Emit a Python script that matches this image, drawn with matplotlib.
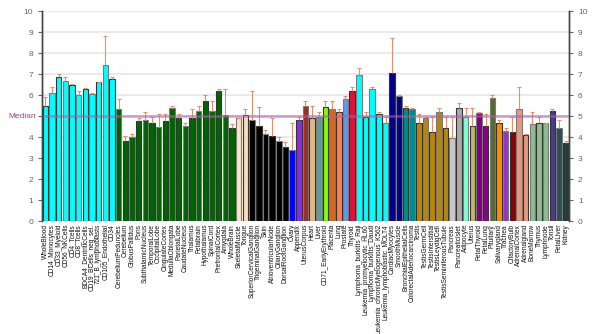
import matplotlib
matplotlib.use("Agg")
import matplotlib.pyplot as plt
import numpy as np

plt.rcParams['font.family'] = ['Liberation Sans', 'DejaVu Sans']

categories = [
    "WholeBlood", "CD14_Monocytes", "CD33_Myeloid", "CD56_NKCells", "CD4_Tcells",
    "CD8_Tcells", "BDCA4_DentriticCells", "CD19_BCells_neg_sel.", "721_B_lymphoblasts",
    "CD105_Endothelial", "CD34", "CerebellumPeduncles", "Cerebellum", "GlobusPallidus",
    "Pons", "SubthalamicNucleus", "TemporalLobe", "OccipitalLobe", "CingulateCortex",
    "MedullaOblongata", "ParietalLobe", "CaudateNucleus", "Thalamus", "Fetalbrain",
    "Hypothalamus", "SpinalCord", "PrefrontalCortex", "Amygdala", "WholeBrain",
    "SkeletalMuscle", "Tongue", "SuperiorCervicalGanglion", "TrigeminalGanglion", "Skin",
    "AtrioventricularNode", "CiliaryGanglion", "DorsalRootGanglion", "Ovary", "Appendix",
    "UterusCorpus", "Heart", "Liver", "CD71_EarlyErythroid", "Placenta", "Lung",
    "Prostate", "Thyroid", "Lymphoma_burkitts_Raji", "Leukemia_promyelocytic_HL60",
    "Lymphoma_burkitts_Daudi", "Leukemia_chronicMyelogenous_K562",
    "Leukemia_lymphoblastic_MOLT4", "CardiacMyocytes", "SmoothMuscle",
    "BronchialEpithelialCells", "ColorectalAdenocarcinoma", "Testis", "TestisGermCell",
    "TestisInterstitial", "TestisLeydigCell", "TestisSeminiferousTubule", "Pancreas",
    "PancreaticIslet", "Adipocyte", "Uterus", "FetalThyroid", "FetalLung", "Pituitary",
    "Salivarygland", "Trachea", "OlfactoryBulb", "AdrenalCortex", "Adrenalgland",
    "BoneMarrow", "Thymus", "Lymphnode", "Tonsil", "FetalLiver", "Kidney",
]

values = [
    5.48, 6.11, 6.84, 6.67, 6.48, 6.00, 6.27, 6.05, 6.62, 7.43, 6.75,
    5.33, 3.81, 3.98, 4.76, 4.81, 4.68, 4.49, 4.76, 5.40, 4.89, 4.52, 4.89, 5.25,
    5.70, 5.25, 6.19, 5.03, 4.41,
    4.89, 5.03, 4.81, 4.51, 4.17, 4.05, 3.81, 3.52, 3.38, 4.81, 5.48,
    4.89, 4.97, 5.44, 5.32, 5.19, 5.81, 6.19, 6.95, 4.97, 6.29, 5.10, 4.68,
    7.06, 5.95, 5.40, 5.32, 4.65, 4.89, 4.24, 5.21, 4.41, 3.97, 5.40,
    4.94, 4.52, 5.14, 4.52, 5.84, 4.65, 4.30, 4.24, 5.32, 4.08, 4.60, 4.65, 4.65,
    5.24, 4.44, 3.73,
]

error_tops = [
    5.92, 6.40, 7.00, 6.87, 6.52, 6.20, 6.32, 6.10, 6.64, 8.81, 6.87,
    5.81, 4.06, 4.17, 4.89, 5.21, 4.97, 5.10, 5.10, 5.49, 5.10, 4.68, 5.32, 5.49,
    6.00, 5.71, 6.29, 6.29, 4.60,
    4.91, 5.32, 6.21, 5.41, 4.33, 4.89, 3.98, 3.78, 4.68, 4.97, 5.71,
    5.49, 5.21, 5.71, 5.71, 5.32, 5.95, 6.40, 7.27, 5.21, 6.40, 5.21, 4.97,
    8.70, 6.00, 5.49, 5.40, 5.10, 4.97, 4.97, 5.40, 4.97, 4.97, 5.60,
    5.40, 5.40, 5.21, 5.10, 6.00, 4.81, 4.41, 4.97, 6.40, 4.17, 5.21, 4.97, 4.68,
    5.32, 4.81, 3.81,
]

median_value = 5.0
y_ticks = list(range(0, 11))
left_tick_labels = ["0", "1", "2", "3", "4", "", "6", "7", "8", "9", "10"]
right_tick_labels = [str(t) for t in y_ticks]

colors = (
    ["#00FFFF"] * 11 + ["#006400"] * 18 + ["#FFE4C4", "#FFDAB9"] + ["#000000"] * 6 +
    ["#0000FF", "#8A2BE2", "#A52A2A", "#DEB887", "#5F9EA0", "#7FFF00", "#D2691E",
     "#FF7F50", "#6495ED", "#DC143C"] + ["#00FFFF"] * 5 + ["#00008B"] * 2 +
    ["#008B8B"] * 2 + ["#B8860B"] * 5 + ["#C8C8C8", "#A9A9A9", "#7FFFD4", "#BDB76B",
     "#800080", "#8B008B", "#556B2F", "#FF8C00", "#9932CC", "#8B0000", "#E9967A",
     "#E9967A", "#8FBC8F", "#8FBC8F", "#8FBC8F", "#483D8B", "#2F4F4F", "#1F3F3F"]
)

fig = plt.figure(figsize=(6.11, 3.34), dpi=100)
ax = fig.add_axes([0.0687, 0.338, 0.8625, 0.629])

x = np.arange(len(categories))
edges = ["#333333" if i % 2 == 0 else "#7a7a7a" for i in range(len(categories))]
ax.bar(x, values, width=0.82, color=colors, edgecolor=edges, linewidth=0.8, zorder=2)

err_color = "#E0906A"
ax.vlines(x, values, error_tops, color=err_color, linewidth=0.8, zorder=3)
ax.plot(x, error_tops, linestyle="none", marker="_", markersize=3.5,
        markeredgewidth=0.8, color=err_color, zorder=3)

ax.axhline(median_value, color="#B060B0", alpha=0.6, linewidth=1.8, zorder=4)
ax.text(-0.012, median_value, "Median", transform=ax.get_yaxis_transform(),
        ha="right", va="center", fontsize=6, color="#A040A0")

for t in y_ticks:
    ax.axhline(t, color="#E4E4E4", linewidth=1.1, zorder=0)

ax.set_xlim(-0.5, len(categories) - 0.5)
ax.set_ylim(0, 10)
ax.set_yticks(y_ticks)
ax.set_yticklabels(left_tick_labels)
ax.tick_params(axis="y", labelsize=6, colors="#666666", length=3, width=0.8,
               left=True, right=False, labelleft=True, labelright=False)
ax.set_xticks(x)
ax.set_xticklabels(categories, rotation=90, fontsize=4.7, color="#111111")
ax.tick_params(axis="x", length=0, pad=2)

ax2 = ax.twinx()
ax2.set_ylim(0, 10)
ax2.set_yticks(y_ticks)
ax2.set_yticklabels(right_tick_labels)
ax2.tick_params(axis="y", labelsize=6, colors="#666666", length=3, width=0.8)

for a in (ax, ax2):
    for s in ["top", "bottom"]:
        a.spines[s].set_visible(False)
    for s in ["left", "right"]:
        a.spines[s].set_color("#444444")
        a.spines[s].set_linewidth(1.0)

fig.savefig("out.png", dpi=100)
